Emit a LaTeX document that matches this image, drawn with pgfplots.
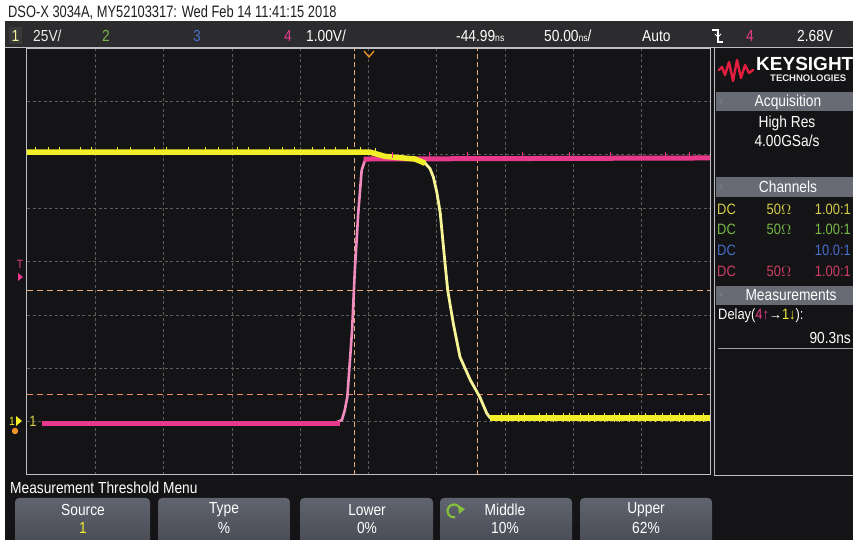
\documentclass[border=0pt]{standalone}
\usepackage{pgfplots}
\pgfplotsset{compat=1.18}
\usepackage{fontspec}
\setmainfont{Liberation Sans}
\newfontfamily\scr{Liberation Sans}[FakeStretch=0.86]
\newfontfamily\ttl{Liberation Sans}[FakeStretch=0.78]
\newcommand{\fs}[1]{\fontsize{#1}{#1}\selectfont}
\definecolor{scrbg}{RGB}{20,20,22}
\definecolor{barc}{RGB}{44,44,46}
\definecolor{linec}{RGB}{190,190,195}
\definecolor{titlec}{RGB}{30,30,30}
\definecolor{hdrc}{RGB}{104,106,116}
\definecolor{btntop}{RGB}{96,100,110}
\definecolor{btnbot}{RGB}{70,73,82}
\definecolor{gridc}{RGB}{92,92,92}
\definecolor{curc}{RGB}{228,172,132}
\definecolor{ch1}{RGB}{242,238,40}
\definecolor{ch1e}{RGB}{246,244,150}
\definecolor{ch1t}{RGB}{214,206,70}
\definecolor{ch4}{RGB}{232,58,140}
\definecolor{ch4e}{RGB}{240,140,190}
\definecolor{ch4t}{RGB}{206,62,100}
\definecolor{ch2}{RGB}{120,185,70}
\definecolor{ch3}{RGB}{70,110,205}
\definecolor{ksred}{RGB}{228,30,62}
\definecolor{orng}{RGB}{240,150,40}
\begin{document}
\begin{tikzpicture}[x=1pt,y=1pt]
\useasboundingbox (0,0) rectangle (853,540);
\fill[white] (0,0) rectangle (853,540);
\fill[scrbg] (5,0) rectangle (853,519);
% status bar
\fill[barc] (5,492) rectangle (853,519);
\draw[linec, line width=1pt] (5,492) -- (853,492);
\node[anchor=west, inner sep=0pt, text=titlec] at (8,527) {\ttl\fs{16.5}DSO-X 3034A, MY52103317: Wed Feb 14 11:41:15 2018};
\fill[gray!45!black] (9,496) rectangle (22,513);
\node[text=ch1e, inner sep=0] at (15.5,504) {\scr\fs{16}1};
\node[anchor=west, inner sep=0, text=white!85!gray] at (33,504) {\scr\fs{16}25V/};
\node[text=ch2, inner sep=0] at (106,504) {\scr\fs{16}2};
\node[text=ch3, inner sep=0] at (197,504) {\scr\fs{16}3};
\node[text=ch4, inner sep=0] at (288,504) {\scr\fs{16}4};
\node[anchor=west, inner sep=0, text=white] at (306,504) {\scr\fs{16}1.00V/};
\node[anchor=west, inner sep=0, text=white] at (456,504) {\scr\fs{16}-44.99{\fs{10}ns}};
\node[anchor=west, inner sep=0, text=white] at (544,504) {\scr\fs{16}50.00{\fs{10}ns}/};
\node[anchor=west, inner sep=0, text=white] at (642,504) {\scr\fs{16}Auto};
\draw[white, line width=1.2pt] (712,510) -- (718,510) -- (718,498) -- (723,498);
\draw[white, line width=1pt] (715,506) -- (718,503) -- (721,506);
\node[text=ch4, inner sep=0] at (750,504) {\scr\fs{16}4};
\node[anchor=west, inner sep=0, text=white] at (797,504) {\scr\fs{16}2.68V};
% graticule and traces
\begin{axis}[at={(27pt,65pt)}, anchor=south west, scale only axis,
  width=683pt, height=427pt, xmin=0, xmax=10, ymin=0, ymax=8,
  xtick={1,2,3,4,5,6,7,8,9}, ytick={1,2,3,4,5,6,7},
  xticklabels={}, yticklabels={}, major tick length=0pt,
  grid=major, major grid style={draw=gridc, line width=0.7pt, dash pattern=on 3pt off 2.5pt},
  axis line style={draw=linec, line width=1pt}, clip=true]
% cursors
\addplot[curc, line width=1.1pt, dash pattern=on 5pt off 3pt] coordinates {(4.80,0) (4.80,8)};
\addplot[curc, line width=1.1pt, dash pattern=on 5pt off 3pt] coordinates {(6.60,0) (6.60,8)};
\addplot[curc, line width=1.1pt, dash pattern=on 6pt off 4pt] coordinates {(0,3.46) (10,3.46)};
\addplot[curc!80!red, line width=1.1pt, dash pattern=on 6pt off 4pt] coordinates {(0,1.50) (10,1.50)};
% channel 4 (pink)
\addplot[ch4e, line width=2.6pt, line join=round] coordinates {
 (4.50,0.97) (4.61,1.03) (4.65,1.20) (4.69,1.46) (4.76,2.72) (4.80,3.84)
 (4.85,4.91) (4.90,5.71) (4.95,5.90) (5.05,5.94)};
\addplot[ch4, line width=5pt] coordinates {(0.22,0.97) (4.58,0.97)};
\addplot[ch4, line width=5pt] coordinates {(4.93,5.92) (10,5.94)};
\addplot[ch4, only marks, mark=|, mark size=2.8pt, mark options={line width=1pt}] coordinates {
 (5.35,5.99) (5.90,5.99) (6.45,5.99) (7.25,5.99) (7.95,5.99) (8.55,5.99) (9.35,5.99) (9.70,5.99)};
% channel 1 (yellow)
\addplot[ch1e, line width=2.8pt, line join=round] coordinates {
 (5.60,5.93) (5.75,5.90) (5.83,5.84) (5.90,5.74) (5.95,5.58) (6.00,5.30)
 (6.05,4.91) (6.12,3.97) (6.16,3.46) (6.24,2.85) (6.34,2.21) (6.49,1.78)
 (6.63,1.46) (6.73,1.16) (6.78,1.07) (6.90,1.07)};
\addplot[ch1, line width=5.5pt, line join=round] coordinates {
 (0,6.05) (5.02,6.05) (5.24,5.97) (5.68,5.92) (5.83,5.84)};
\addplot[ch1, line width=5.5pt] coordinates {(6.78,1.07) (10,1.07)};
\addplot[ch1, only marks, mark=|, mark size=2.5pt, mark options={line width=1pt}] coordinates {
 (0.12,6.10) (0.31,6.10) (0.47,6.10) (0.78,6.10) (0.95,6.10) (1.33,6.10) (1.52,6.10)
 (1.86,6.10) (2.04,6.10) (2.37,6.10) (2.62,6.10) (2.81,6.10) (3.08,6.10) (3.25,6.10)
 (3.55,6.10) (3.74,6.10) (3.92,6.10) (4.18,6.10) (4.36,6.10) (4.52,6.10) (4.69,6.10)
 (4.88,6.10) (5.10,6.08)};
\addplot[ch1, only marks, mark=|, mark size=4.5pt, mark options={line width=1pt}] coordinates {
 (6.95,1.07) (7.05,1.07) (7.20,1.07) (7.28,1.07) (7.50,1.07) (7.60,1.07) (7.71,1.07)
 (7.86,1.07) (7.95,1.07) (8.10,1.07) (8.22,1.07) (8.31,1.07) (8.45,1.07) (8.60,1.07)
 (8.68,1.07) (8.82,1.07) (8.95,1.07) (9.05,1.07) (9.20,1.07) (9.30,1.07) (9.42,1.07)
 (9.55,1.07) (9.62,1.07) (9.78,1.07) (9.90,1.07)};
\end{axis}
% trigger position marker
\draw[orng, line width=1.3pt] (364,489) -- (369,483) -- (374,489);
% left markers
\node[text=ch4, inner sep=0] at (20,276) {\scr\fs{12}T};
\fill[ch4] (18,267) -- (18,259) -- (23,263) -- cycle;
\node[text=ch1, inner sep=0] at (12,119) {\scr\fs{12}1};
\fill[ch1] (16,114) -- (16,124) -- (22,119) -- cycle;
\fill[orng] (15,109) circle (3.2);
\node[text=ch1t, inner sep=0] at (33,119) {\scr\fs{15}1};
% right panel
\draw[linec, line width=1pt] (714,492) -- (714,64) -- (853,64);
\draw[ksred, line width=2.4pt, line join=round, line cap=round]
 (719,470) -- (722,473) -- (725,465) -- (729,478) -- (733,459) -- (737,480) -- (741,462) -- (745,475) -- (749,467) -- (753,470);
\node[anchor=west, inner sep=0, text=white] at (756,476) {\bfseries\fs{19}KEYSIGHT};
\node[anchor=west, inner sep=0, text=white!85!gray] at (770,462) {\bfseries\fs{9.5}TECHNOLOGIES};
\fill[hdrc] (716,429) rectangle (853,448);
\node[text=white, inner sep=0] at (788,438) {\scr\fs{16}Acquisition};
\node[text=gray!40, inner sep=0] at (721,438) {\fs{6}::};
\node[text=white, inner sep=0] at (787,417) {\scr\fs{16}High Res};
\node[text=white, inner sep=0] at (787,399) {\scr\fs{16}4.00GSa/s};
\fill[hdrc] (716,343) rectangle (853,363);
\node[text=white, inner sep=0] at (788,353) {\scr\fs{16}Channels};
\node[text=gray!40, inner sep=0] at (721,353) {\fs{6}::};
\node[anchor=west, text=ch1t, inner sep=0] at (717,331) {\scr\fs{15}DC};
\node[text=ch1t, inner sep=0] at (779,331) {\scr\fs{15}50$\Omega$};
\node[anchor=east, text=ch1t, inner sep=0] at (851,331) {\scr\fs{15}1.00:1};
\node[anchor=west, text=ch2, inner sep=0] at (717,311) {\scr\fs{15}DC};
\node[text=ch2, inner sep=0] at (779,311) {\scr\fs{15}50$\Omega$};
\node[anchor=east, text=ch2, inner sep=0] at (851,311) {\scr\fs{15}1.00:1};
\node[anchor=west, text=ch3, inner sep=0] at (717,290) {\scr\fs{15}DC};
\node[anchor=east, text=ch3, inner sep=0] at (851,290) {\scr\fs{15}10.0:1};
\node[anchor=west, text=ch4t, inner sep=0] at (717,269) {\scr\fs{15}DC};
\node[text=ch4t, inner sep=0] at (779,269) {\scr\fs{15}50$\Omega$};
\node[anchor=east, text=ch4t, inner sep=0] at (851,269) {\scr\fs{15}1.00:1};
\fill[hdrc] (716,235) rectangle (853,254);
\node[text=white, inner sep=0] at (791,245) {\scr\fs{16}Measurements};
\node[text=gray!40, inner sep=0] at (721,245) {\fs{6}::};
\node[anchor=west, text=white, inner sep=0] at (718,224) {\scr\fs{15}Delay({\color{ch4}4↑}→{\color{ch1}1↓}):};
\node[anchor=east, text=white, inner sep=0] at (851,202) {\scr\fs{16}90.3ns};
\draw[gray!75, line width=1pt] (718,191) -- (853,191);
% bottom menu
\node[anchor=west, text=white, inner sep=0] at (10,52) {\scr\fs{16}Measurement Threshold Menu};
\foreach \a/\b in {15/150, 158/290, 300/433, 440/572, 580/712}{
  \shade[top color=btntop, bottom color=btnbot, rounded corners=4pt] (\a,-8) rectangle (\b,42);
}
\node[text=white, inner sep=0] at (83,30) {\scr\fs{16}Source};
\node[text=ch1, inner sep=0] at (83,12) {\scr\fs{16}1};
\node[text=white, inner sep=0] at (224,30) {\scr\fs{16}Type};
\node[text=white, inner sep=0] at (224,12) {\scr\fs{16}\%};
\node[text=white, inner sep=0] at (367,30) {\scr\fs{16}Lower};
\node[text=white, inner sep=0] at (367,12) {\scr\fs{16}0\%};
\node[text=white, inner sep=0] at (505,30) {\scr\fs{16}Middle};
\node[text=white, inner sep=0] at (505,12) {\scr\fs{16}10\%};
\node[text=white, inner sep=0] at (646,30) {\scr\fs{16}Upper};
\node[text=white, inner sep=0] at (646,12) {\scr\fs{16}62\%};
\draw[ch2!90!yellow, line width=2.2pt] (460.5,29) arc (0:280:6.5);
\fill[ch2!90!yellow] (458,35) -- (465,31) -- (459,26) -- cycle;
\end{tikzpicture}
\end{document}
